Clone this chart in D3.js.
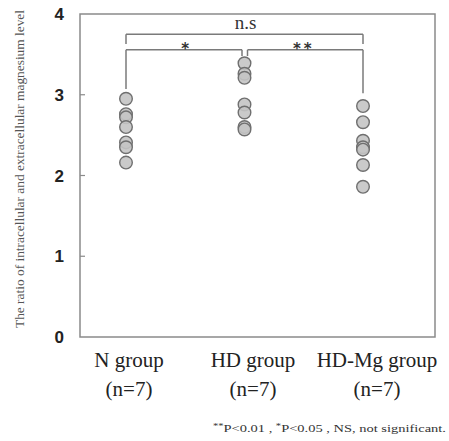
<!DOCTYPE html>
<html>
<head>
<meta charset="utf-8">
<script src="https://cdn.jsdelivr.net/npm/d3@7"></script>
<style>
  body { margin: 0; background: #fff; }
  .serif { font-family: "Liberation Serif", "Times New Roman", serif; }
</style>
</head>
<body>
<div id="chart"></div>
<script>
// data
var groups = ["N group", "HD group", "HD-Mg group"];
var groupN = ["(n=7)", "(n=7)", "(n=7)"];
var nValues = [2.95, 2.76, 2.72, 2.60, 2.41, 2.35, 2.16];
var hdValues = [3.39, 3.26, 3.21, 2.88, 2.78, 2.60, 2.57];
var hdMgValues = [2.86, 2.66, 2.43, 2.35, 2.32, 2.13, 1.86];
var yTicks = [0, 1, 2, 3, 4];
var comparisons = [
    {from: "N group", to: "HD group", label: "*"},
    {from: "HD group", to: "HD-Mg group", label: "**"},
    {from: "N group", to: "HD-Mg group", label: "n.s"}
];

var width = 449, height = 441;
var plot = {left: 80, right: 435, top: 14, bottom: 337};

var svg = d3.select("#chart").append("svg")
    .attr("width", width)
    .attr("height", height);

var y = d3.scaleLinear().domain([0, 4]).range([plot.bottom, plot.top]);
var x = d3.scalePoint().domain(groups).range([126, 363]);
// labels sit a little right of the dots in the original
var xLabel = d3.scalePoint().domain(groups).range([129, 377]);

//frame
svg.append("rect")
    .attr("x", plot.left)
    .attr("y", plot.top)
    .attr("width", plot.right - plot.left)
    .attr("height", plot.bottom - plot.top)
    .attr("fill", "none")
    .attr("stroke", "#8a8a8a")
    .attr("stroke-width", 1.5);

//inner ticks
svg.selectAll(".tick").data(yTicks.filter(function (d) {return d > 0 && d < 4}))
    .enter().append("line")
    .attr("x1", plot.left)
    .attr("x2", plot.left + 5)
    .attr("y1", function (d) {return y(d)})
    .attr("y2", function (d) {return y(d)})
    .attr("stroke", "#8a8a8a")
    .attr("stroke-width", 1.2);

svg.selectAll(".tickLabel").data(yTicks)
    .enter().append("text")
    .attr("x", 64)
    .attr("y", function (d) {return y(d) + 6})
    .attr("text-anchor", "end")
    .attr("font-family", "'Liberation Sans', Arial, sans-serif")
    .attr("font-weight", "bold")
    .attr("font-size", 17)
    .attr("fill", "#222")
    .text(function (d) {return d});

//y axis title
svg.append("text")
    .attr("class", "serif")
    .attr("transform", "translate(24,169) rotate(-90)")
    .attr("text-anchor", "middle")
    .attr("font-size", 12.5)
    .attr("fill", "#555")
    .attr("textLength", 318)
    .attr("lengthAdjust", "spacingAndGlyphs")
    .text("The ratio of intracellular and extracellular magnesium level");

//brackets
var lineColor = "#7a7a7a";
function drawLine(x1, y1, x2, y2) {
    svg.append("line")
        .attr("x1", x1).attr("y1", y1)
        .attr("x2", x2).attr("y2", y2)
        .attr("stroke", lineColor)
        .attr("stroke-width", 1.5);
}

var low = 3.556, high = 3.75;
var c1 = comparisons[0], c2 = comparisons[1], c3 = comparisons[2];
// left pair
drawLine(x(c1.from), y(3.07), x(c1.from), y(low));
drawLine(x(c1.from), y(low), x(c1.to) - 2.5, y(low));
drawLine(x(c1.to) - 2.5, y(low), x(c1.to) - 2.5, y(3.48));
// right pair
drawLine(x(c2.from) + 3, y(3.48), x(c2.from) + 3, y(low));
drawLine(x(c2.from) + 3, y(low), x(c2.to), y(low));
drawLine(x(c2.to), y(low), x(c2.to), y(3.02));
// overall
drawLine(x(c3.from), y(3.63), x(c3.from), y(high));
drawLine(x(c3.from), y(high), x(c3.to), y(high));
drawLine(x(c3.to), y(high), x(c3.to), y(3.63));

svg.append("text")
    .attr("x", (x(c1.from) + x(c1.to)) / 2)
    .attr("y", y(low) + 4)
    .attr("text-anchor", "middle")
    .attr("font-family", "'DejaVu Sans', sans-serif")
    .attr("font-weight", "bold")
    .attr("font-size", 15)
    .attr("fill", "#333")
    .text(c1.label);
svg.append("text")
    .attr("x", (x(c2.from) + x(c2.to)) / 2)
    .attr("y", y(low) + 4)
    .attr("text-anchor", "middle")
    .attr("font-family", "'DejaVu Sans', sans-serif")
    .attr("font-weight", "bold")
    .attr("font-size", 15)
    .attr("fill", "#333")
    .attr("letter-spacing", 3)
    .text(c2.label);
svg.append("text").attr("class", "serif")
    .attr("x", (x(c3.from) + x(c3.to)) / 2 + 1)
    .attr("y", y(high) - 5)
    .attr("text-anchor", "middle")
    .attr("font-size", 19)
    .attr("fill", "#333")
    .text(c3.label);

//dots
var allValues = [nValues, hdValues, hdMgValues];
var points = [];
groups.forEach(function (g, i) {
    allValues[i].forEach(function (v) {points.push({group: g, value: v})});
});

svg.selectAll(".dot").data(points)
    .enter().append("circle")
    .attr("cx", function (d) {return x(d.group)})
    .attr("cy", function (d) {return y(d.value)})
    .attr("r", 6.3)
    .attr("fill", "#c4c4c4")
    .attr("fill-opacity", 0.9)
    .attr("stroke", "#6f6f6f")
    .attr("stroke-width", 1.4);

//category labels
svg.selectAll(".groupLabel").data(groups)
    .enter().append("text")
    .attr("class", "serif")
    .attr("x", function (d) {return xLabel(d)})
    .attr("y", 367)
    .attr("text-anchor", "middle")
    .attr("font-size", 21)
    .attr("fill", "#222")
    .text(function (d) {return d});

svg.selectAll(".nLabel").data(groups)
    .enter().append("text")
    .attr("class", "serif")
    .attr("x", function (d) {return xLabel(d)})
    .attr("y", 396)
    .attr("text-anchor", "middle")
    .attr("font-size", 21)
    .attr("fill", "#222")
    .text(function (d, i) {return groupN[i]});

//footnote
var note = svg.append("text")
    .attr("class", "serif")
    .attr("x", 213)
    .attr("y", 432)
    .attr("font-size", 11)
    .attr("fill", "#333")
    .attr("textLength", 233)
    .attr("lengthAdjust", "spacingAndGlyphs");
note.append("tspan").attr("font-size", 8).attr("dy", -3).text("**");
note.append("tspan").attr("dy", 3).text("P<0.01 , ");
note.append("tspan").attr("font-size", 8).attr("dy", -3).text("*");
note.append("tspan").attr("dy", 3).text("P<0.05 , NS, not significant.");
</script>
</body>
</html>
